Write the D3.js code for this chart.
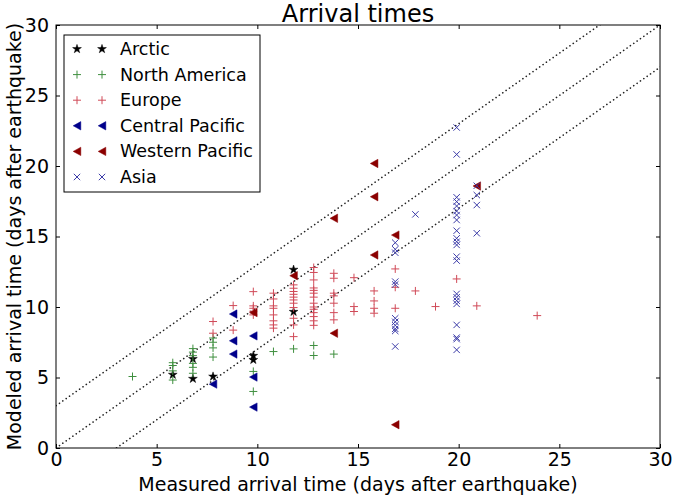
<!DOCTYPE html>
<html><head><meta charset="utf-8">
<script src="https://cdnjs.cloudflare.com/ajax/libs/d3/7.8.5/d3.min.js"></script>
<style>
body{margin:0;background:#fff;}
text{font-family:"DejaVu Sans",sans-serif;}
</style></head>
<body><svg id="c" width="675" height="501"></svg>
<script>
const xTicks=[0,5,10,15,20,25,30];
const yTicks=[0,5,10,15,20,25,30];
const refOffsets=[3,0,-3];
const seriesNames=["Arctic","North America","Europe","Central Pacific","Western Pacific","Asia"];
const arctic=[[5.8,5.2],[6.8,6.32],[6.8,4.91],[7.8,5.07],[9.8,6.54],[9.8,6.25],[11.8,12.65],[11.8,9.66]];
const northAmerica=[[3.8,5.07],[5.8,6.05],[5.8,5.85],[5.8,5.47],[5.8,4.82],[6.8,7.05],[6.8,6.8],[6.8,6.55],[6.8,6.0],[6.8,5.72],[6.8,5.3],[7.8,7.8],[7.8,7.5],[7.8,7.1],[7.8,6.45],[9.8,5.43],[9.8,4.01],[10.8,6.84],[11.8,7.03],[12.8,7.27],[12.8,6.56],[13.8,6.66]];
const europe=[[7.8,8.97],[7.8,8.14],[8.8,10.1],[8.8,8.36],
[9.8,11.09],[9.8,10.08],[9.8,9.91],[9.8,9.44],[9.8,9.7],
[10.8,10.98],[10.8,10.57],[10.8,10.08],[10.8,9.91],[10.8,9.44],[10.8,9.02],[10.8,8.73],[10.8,8.5],
[11.8,11.57],[11.8,11.33],[11.8,11.1],[11.8,10.9],[11.8,10.7],[11.8,10.5],[11.8,10.27],[11.8,9.96],[11.8,9.2],[11.8,8.73],[11.8,7.9],
[12.8,12.8],[12.8,12.45],[12.8,11.92],[12.8,11.35],[12.8,11.18],[12.8,10.98],[12.8,10.7],[12.8,10.27],[12.8,10.0],[12.8,9.84],[12.8,9.6],[12.8,9.32],[12.8,9.02],[12.8,8.7],
[13.8,12.39],[13.8,12.04],[13.8,10.98],[13.8,10.79],[13.8,10.27],[13.8,9.6],[13.8,9.09],
[14.8,12.08],[14.8,10.03],[14.8,9.68],
[15.8,11.14],[15.8,10.43],[15.8,9.91],[15.8,9.56],
[16.85,12.7],[16.85,11.4],[16.85,9.91],[17.85,11.14],[18.85,10.03],[19.9,11.99],[20.9,10.08],[23.9,9.39]];
const centralPacific=[[7.8,4.53],[8.8,9.5],[8.8,7.6],[8.8,6.66],[9.8,7.95],[9.8,5.03],[9.8,2.9]];
const westernPacific=[[9.8,9.6],[11.8,12.22],[13.8,16.29],[13.8,8.14],[15.8,20.18],[15.8,17.82],[15.8,13.69],[16.85,15.1],[16.85,1.65],[20.9,18.58]];
const asia=[[16.85,14.56],[16.85,14.09],[16.85,13.85],[16.85,11.8],[16.85,11.6],[16.85,9.2],[16.85,8.95],[16.85,8.7],[16.85,8.45],[16.85,8.3],[16.85,7.2],
[17.85,16.57],
[19.9,22.73],[19.9,20.82],[19.9,17.78],[19.9,17.47],[19.9,17.16],[19.9,16.8],[19.9,16.52],[19.9,16.17],[19.9,15.41],[19.9,14.87],[19.9,14.63],[19.9,14.4],[19.9,13.57],[19.9,13.29],[19.9,10.93],[19.9,10.69],[19.9,10.45],[19.9,10.22],[19.9,8.73],[19.9,7.83],[19.9,7.72],[19.9,6.96],
[20.9,18.6],[20.9,17.94],[20.9,17.23],[20.9,15.23]];

const L=56,R=660,T=25,B=448;
const svg=d3.select("#c");
const x=d3.scaleLinear().domain([0,30]).range([L,R]);
const y=d3.scaleLinear().domain([0,30]).range([B,T]);

const shapes={
  star:d3.symbol().type(d3.symbolStar).size(24)(),
  plus:"M-4,0H4M0,-4V4",
  cross:"M-3.2,-3.2L3.2,3.2M-3.2,3.2L3.2,-3.2",
  tri:"M-3.8,0L3.8,-4.2L3.8,4.2Z"
};
const styles=[
  {data:arctic,shape:"star",fill:"#000",stroke:"#000",sw:0.5},
  {data:northAmerica,shape:"plus",fill:"none",stroke:"#3f8f3f",sw:1},
  {data:europe,shape:"plus",fill:"none",stroke:"#d04a58",sw:1},
  {data:centralPacific,shape:"tri",fill:"#00008b",stroke:"#00008b",sw:0.5},
  {data:westernPacific,shape:"tri",fill:"#8b0000",stroke:"#8b0000",sw:0.5},
  {data:asia,shape:"cross",fill:"none",stroke:"#3c3ca8",sw:1}
];

svg.append("defs").append("clipPath").attr("id","clip").append("rect")
  .attr("x",L).attr("y",T).attr("width",R-L).attr("height",B-T);

// reference lines
const gl=svg.append("g").attr("clip-path","url(#clip)");
refOffsets.forEach(o=>{
  gl.append("line").attr("x1",x(-5)).attr("y1",y(-5+o)).attr("x2",x(35)).attr("y2",y(35+o))
    .attr("stroke","#222").attr("stroke-width",1.6).attr("stroke-dasharray","0.1,4")
    .attr("stroke-linecap","round");
});

// points
const gp=svg.append("g");
styles.forEach(s=>{
  gp.selectAll(null).data(s.data).enter().append("path")
    .attr("d",shapes[s.shape])
    .attr("transform",d=>`translate(${x(d[0])},${y(d[1])})`)
    .attr("fill",s.fill).attr("stroke",s.stroke).attr("stroke-width",s.sw);
});

// axes
const ax=svg.append("g");
ax.append("g").attr("transform",`translate(0,${B})`)
  .call(d3.axisBottom(x).tickValues(xTicks).tickSize(-4).tickPadding(5).tickFormat(d3.format("d")));
ax.append("g").attr("transform",`translate(0,${T})`)
  .call(d3.axisTop(x).tickValues(xTicks).tickSize(-4).tickFormat(""));
ax.append("g").attr("transform",`translate(${L},0)`)
  .call(d3.axisLeft(y).tickValues(yTicks).tickSize(-4).tickPadding(7).tickFormat(d3.format("d")));
ax.append("g").attr("transform",`translate(${R},0)`)
  .call(d3.axisRight(y).tickValues(yTicks).tickSize(-4).tickFormat(""));
ax.selectAll(".domain").remove();
ax.selectAll(".tick line").attr("stroke","#000").attr("stroke-width",1);
ax.selectAll(".tick text").attr("font-size",19).attr("font-family","DejaVu Sans").attr("fill","#000");
svg.append("rect").attr("x",L).attr("y",T).attr("width",R-L).attr("height",B-T)
  .attr("fill","none").attr("stroke","#000").attr("stroke-width",1);

// titles
svg.append("text").attr("x",(L+R)/2).attr("y",22).attr("text-anchor","middle")
  .attr("font-size",24).text("Arrival times");
svg.append("text").attr("x",(L+R)/2).attr("y",491).attr("text-anchor","middle")
  .attr("font-size",19).text("Measured arrival time (days after earthquake)");
svg.append("text").attr("transform",`translate(21,${(T+B)/2}) rotate(-90)`).attr("text-anchor","middle")
  .attr("font-size",19).text("Modeled arrival time (days after earthquake)");

// legend
const lg=svg.append("g");
lg.append("rect").attr("x",64).attr("y",35).attr("width",196).attr("height",157)
  .attr("fill","#fff").attr("stroke","#000").attr("stroke-width",1);
styles.forEach((s,i)=>{
  const cy=49+i*25.6;
  [77,102].forEach(cx=>{
    lg.append("path").attr("d",shapes[s.shape]).attr("transform",`translate(${cx},${cy})`)
      .attr("fill",s.fill).attr("stroke",s.stroke).attr("stroke-width",s.sw);
  });
  lg.append("text").attr("x",120).attr("y",cy+6).attr("font-size",17.5).text(seriesNames[i]);
});
</script></body></html>
